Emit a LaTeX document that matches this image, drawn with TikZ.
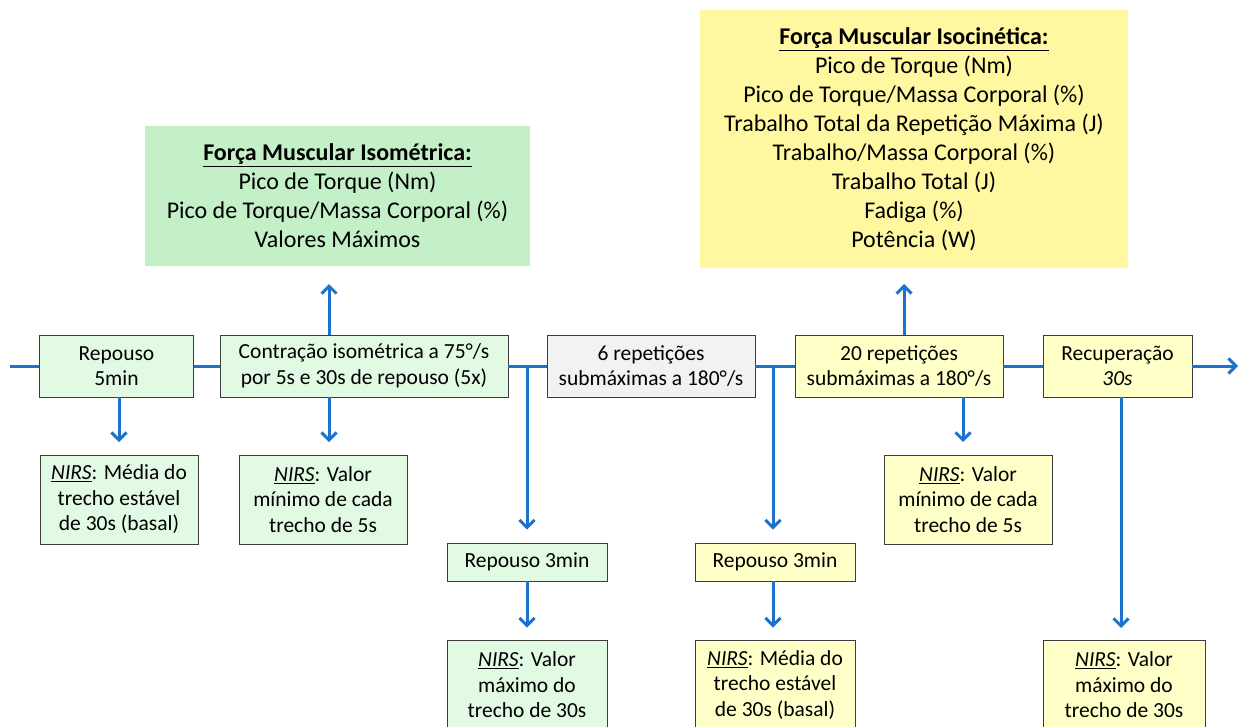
\documentclass[tikz,border=0pt]{standalone}
\usepackage{fontspec}
\setmainfont{Carlito}
\usetikzlibrary{arrows.meta,calc}
\definecolor{flowblue}{RGB}{28,114,204}
\definecolor{boxline}{RGB}{60,60,60}
\definecolor{pgreen}{RGB}{226,250,228}
\definecolor{tgreen}{RGB}{196,240,200}
\definecolor{pyellow}{RGB}{255,255,200}
\definecolor{tyellow}{RGB}{255,248,160}
\definecolor{pgray}{RGB}{242,242,242}
\begin{document}
\begin{tikzpicture}[x=1pt,y=-1pt,
  procbox/.style={draw=boxline, line width=0.8pt, align=center, inner sep=0pt,
    font=\fontsize{21.5}{25.5}\selectfont},
  topbox/.style={align=center, inner sep=0pt, font=\fontsize{24}{29}\selectfont},
  flow/.style={draw=flowblue, line width=3pt},
  arr/.style={flow, -{Straight Barb[length=7.5pt,width=15pt,line width=3pt]}}]
\useasboundingbox (0,0) rectangle (1240,726);

% top result boxes
\node[topbox, fill=tgreen, minimum width=385pt, minimum height=140pt] (iso) at (337.5,196)
 {\textbf{\underline{Força Muscular Isométrica:}}\\Pico de Torque (Nm)\\Pico de Torque/Massa Corporal (\%)\\Valores Máximos};
\node[topbox, fill=tyellow, minimum width=428pt, minimum height=258pt] (isoc) at (914,139)
 {\textbf{\underline{Força Muscular Isocinética:}}\\Pico de Torque (Nm)\\Pico de Torque/Massa Corporal (\%)\\Trabalho Total da Repetição Máxima (J)\\Trabalho/Massa Corporal (\%)\\Trabalho Total (J)\\Fadiga (\%)\\Potência (W)};

% main process boxes
\node[procbox, fill=pgreen, minimum width=154pt, minimum height=62pt] (b1) at (116.5,366) {Repouso\\5min};
\node[procbox, fill=pgreen, minimum width=288pt, minimum height=62pt] (b2) at (364,366) {Contração isométrica a 75°/s\\por 5s e 30s de repouso (5x)};
\node[procbox, fill=pgray, minimum width=208pt, minimum height=62pt] (b3) at (651,366) {6 repetições\\submáximas a 180°/s};
\node[procbox, fill=pyellow, minimum width=208pt, minimum height=62pt] (b4) at (899,366) {20 repetições\\submáximas a 180°/s};
\node[procbox, fill=pyellow, minimum width=149pt, minimum height=62pt] (b5) at (1117.5,366) {Recuperação\\\textit{30s}};

% NIRS boxes, first row
\node[procbox, fill=pgreen, minimum width=158pt, minimum height=89pt] (n1) at (119,499.5) {\underline{\textit{NIRS}}: Média do\\trecho estável\\de 30s (basal)};
\node[procbox, fill=pgreen, minimum width=168pt, minimum height=89pt] (n2) at (323,499.5) {\underline{\textit{NIRS}}: Valor\\mínimo de cada\\trecho de 5s};
\node[procbox, fill=pyellow, minimum width=168pt, minimum height=89pt] (n3) at (968,499.5) {\underline{\textit{NIRS}}: Valor\\mínimo de cada\\trecho de 5s};

% rest boxes
\node[procbox, fill=pgreen, minimum width=160pt, minimum height=38pt] (r1) at (527,562) {Repouso 3min};
\node[procbox, fill=pyellow, minimum width=160pt, minimum height=38pt] (r2) at (775,562) {Repouso 3min};

% NIRS boxes, bottom row
\node[procbox, fill=pgreen, minimum width=160pt, minimum height=90pt] (n4) at (527,685) {\underline{\textit{NIRS}}: Valor\\máximo do\\trecho de 30s};
\node[procbox, fill=pyellow, minimum width=160pt, minimum height=90pt] (n5) at (775,685) {\underline{\textit{NIRS}}: Média do\\trecho estável\\de 30s (basal)};
\node[procbox, fill=pyellow, minimum width=162pt, minimum height=90pt] (n6) at (1124,685) {\underline{\textit{NIRS}}: Valor\\máximo do\\trecho de 30s};

% main line
\coordinate (start) at (10,366);
\coordinate (end) at (1238,366);
\coordinate (j1) at (527,366);
\coordinate (j2) at (773,366);
\draw[flow] (start) -- (b1.west);
\draw[flow] (b1.east) -- (b2.west);
\draw[flow] (b2.east) -- (b3.west);
\draw[flow] (b3.east) -- (b4.west);
\draw[flow] (b4.east) -- (b5.west);
\draw[arr] (b5.east) -- (end);

% up arrows
\coordinate (u2) at (329,284);
\coordinate (u4) at (904,284);
\draw[arr] (b2.north -| u2) -- (u2);
\draw[arr] (b4.north -| u4) -- (u4);

% down arrows
\coordinate (d1) at (119,442);
\coordinate (d2) at (329,442);
\coordinate (d4) at (963,442);
\coordinate (d5) at (1121,628);
\draw[arr] (b1.south -| d1) -- (d1);
\draw[arr] (b2.south -| d2) -- (d2);
\draw[arr] (b4.south -| d4) -- (d4);
\draw[arr] (b5.south -| d5) -- (d5);

% branches
\draw[arr] (j1) -- ($(r1.north)+(0,-13)$);
\draw[arr] (j2) -- ($(r2.north -| j2)+(0,-13)$);
\draw[arr] (r1.south) -- ($(n4.north)+(0,-12)$);
\draw[arr] (r2.south -| j2) -- ($(n5.north -| j2)+(0,-12)$);
\end{tikzpicture}
\end{document}
